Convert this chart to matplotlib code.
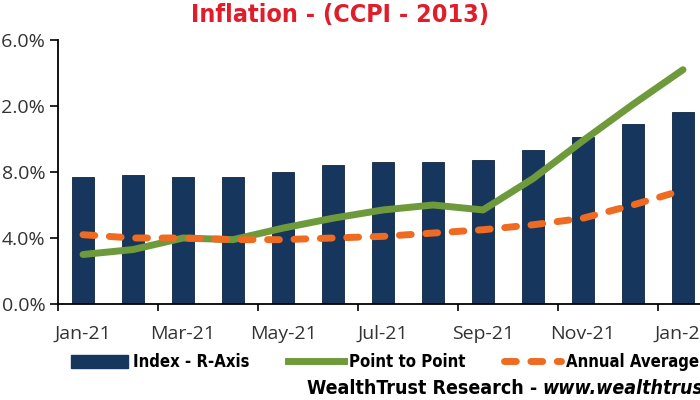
import matplotlib
matplotlib.use("Agg")
import matplotlib.pyplot as plt
from matplotlib.patches import Patch
from matplotlib.lines import Line2D

# ── DATA ──────────────────────────────────────────────────────────
months=["Jan-21","Feb-21","Mar-21","Apr-21","May-21","Jun-21","Jul-21",
        "Aug-21","Sep-21","Oct-21","Nov-21","Dec-21","Jan-22"]
index_vals=[138.5,139.1,138.5,138.5,140.0,142.1,143.0,143.0,143.6,146.7,150.6,154.5,158.3]
point_to_point=[3.0,3.3,4.0,3.9,4.6,5.2,5.7,6.0,5.7,7.6,9.9,12.1,14.2]
annual_avg=[4.2,4.0,4.0,3.9,3.9,4.0,4.1,4.3,4.5,4.8,5.2,6.0,6.9]

NAVY="#17365D"; GREEN="#6F9A3B"; ORANGE="#EE6B21"; RED="#E01E2B"
NARROW=dict(family="DejaVu Sans",stretch="condensed")
LABEL=["Open Sans","DejaVu Sans"]

fig=plt.figure(figsize=(7,4),dpi=100)
# axes deliberately run past the right edge (chart is cropped)
ax=fig.add_axes([58/700,1-304/400,650/700,264/400])
ax2=ax.twinx()
x=list(range(len(months)))

ax2.bar(x,index_vals,width=0.44,color=NAVY,edgecolor="#0E2440",linewidth=0.6,label="Index - R-Axis")
ax2.set_ylim(100,180)
ax2.set_yticks([100,120,140,160,180])
for s in ax2.spines.values(): s.set_visible(False)

ax.set_zorder(ax2.get_zorder()+1); ax.patch.set_visible(False)
ax.plot(x,point_to_point,color=GREEN,lw=5,solid_capstyle="round",solid_joinstyle="round")
ax.plot(x,annual_avg,color=ORANGE,lw=5,dashes=(1.7,2.1),dash_capstyle="round")

ax.set_xlim(-0.5,12.5); ax.set_ylim(0,16)
ax.set_yticks([0,4,8,12,16])
ax.set_yticklabels([f"{v:.1f}%" for v in [0,4,8,12,16]],family=LABEL,fontsize=14,color="#333333")
ax.set_xticks([i-0.5 for i in range(0,13,2)]+[12.5])
ax.set_xticklabels([])
ax.set_xticks(list(range(0,13,2)),minor=True)
ax.set_xticklabels([months[i] for i in range(0,13,2)],minor=True,family=LABEL,fontsize=14,color="#333333")
ax.tick_params(axis="x",which="major",length=5,width=1.2,direction="out")
ax.tick_params(axis="x",which="minor",length=0,pad=15)
ax.tick_params(axis="y",length=6,width=1.2,pad=3)
for s in ["top","right"]: ax.spines[s].set_visible(False)
for s in ["left","bottom"]: ax.spines[s].set_linewidth(1.3)

fig.text(340/700,1-15/400,"Inflation - (CCPI - 2013)",ha="center",va="center",
         fontweight="bold",fontsize=18,color=RED,**NARROW)

handles=[Patch(facecolor=NAVY,edgecolor=NAVY),
         Line2D([],[],color=GREEN,lw=5),
         Line2D([],[],color=ORANGE,lw=5,dashes=(1.7,2.1),dash_capstyle="round")]
fig.legend(handles,["Index - R-Axis","Point to Point","Annual Average"],ncol=3,
           loc="center left",bbox_to_anchor=(56/700,1-362/400),frameon=False,
           prop=dict(weight="bold",size=12,**NARROW),
           handlelength=3.4,handleheight=0.8,handletextpad=0.3,columnspacing=2.3)

fig.text(307/700,1-388/400,"WealthTrust Research - ",ha="left",va="center",
         fontweight="bold",fontsize=14,**NARROW)
fig.text(542/700,1-388/400,"www.wealthtrustsecurities.com",ha="left",va="center",
         fontweight="bold",style="italic",fontsize=14,**NARROW)

fig.savefig("out.png",dpi=100)
